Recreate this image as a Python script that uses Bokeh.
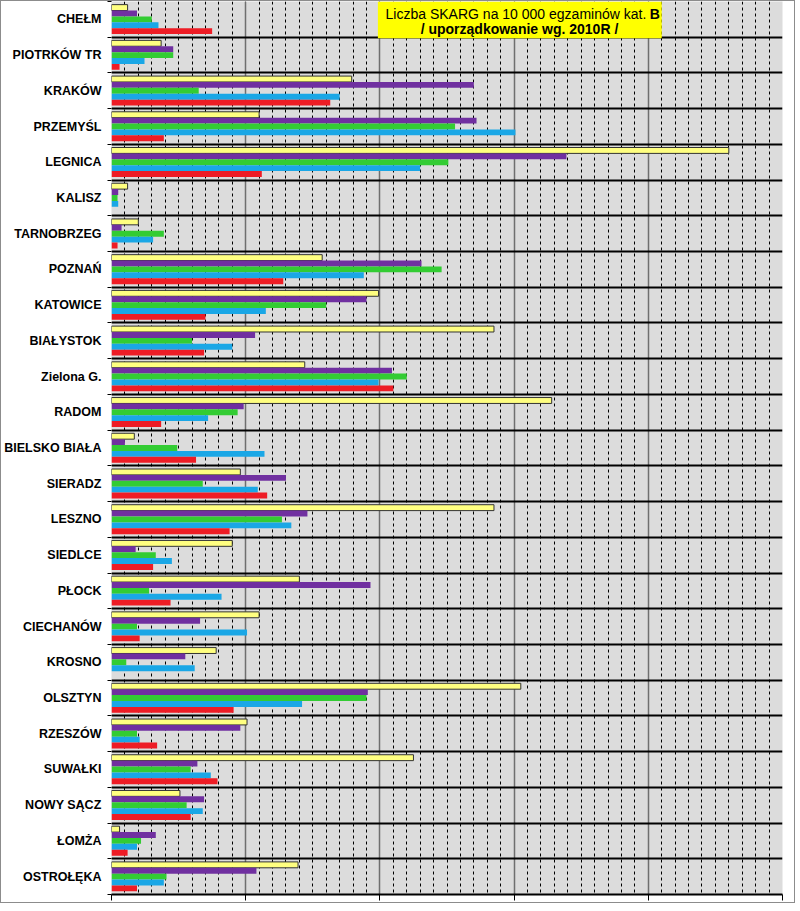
from bokeh.plotting import figure
from bokeh.models import (Range1d, FixedTicker, SingleIntervalTicker, BoxAnnotation,
                          Label, ColumnDataSource)
from bokeh.transform import dodge
from bokeh.embed import file_html
from bokeh.resources import INLINE

cities = ["CHEŁM", "PIOTRKÓW TR", "KRAKÓW", "PRZEMYŚL", "LEGNICA", "KALISZ",
          "TARNOBRZEG", "POZNAŃ", "KATOWICE", "BIAŁYSTOK", "Zielona G.", "RADOM",
          "BIELSKO BIAŁA", "SIERADZ", "LESZNO", "SIEDLCE", "PŁOCK", "CIECHANÓW",
          "KROSNO", "OLSZTYN", "RZESZÓW", "SUWAŁKI", "NOWY SĄCZ", "ŁOMŻA", "OSTROŁĘKA"]

s_yellow = [1.2, 3.7, 17.9, 11.0, 46.0, 1.2, 2.0, 15.7, 19.9, 28.5, 14.4, 32.8, 1.7,
            9.6, 28.5, 9.0, 14.0, 11.0, 7.8, 30.5, 10.1, 22.5, 5.1, 0.6, 13.9]
s_purple = [1.9, 4.6, 27.0, 27.2, 33.9, 0.5, 0.75, 23.1, 19.0, 10.7, 20.9, 9.85, 1.0,
            13.0, 14.6, 1.8, 19.3, 6.6, 5.5, 19.1, 9.6, 6.4, 6.9, 3.3, 10.8]
s_green = [3.0, 4.6, 6.5, 25.6, 25.1, 0.45, 3.9, 24.6, 16.0, 6.0, 22.0, 9.4, 4.9,
           6.8, 12.7, 3.3, 2.8, 1.9, 1.1, 19.0, 1.9, 5.9, 5.6, 2.2, 4.1]
s_cyan = [3.5, 2.46, 17.0, 30.1, 23.0, 0.5, 3.1, 18.8, 11.5, 9.0, 19.9, 7.2, 11.4,
          10.9, 13.4, 4.5, 8.2, 10.1, 6.2, 14.2, 2.1, 7.4, 6.8, 1.9, 3.9]
s_red = [7.5, 0.6, 16.3, 3.9, 11.2, 0.0, 0.45, 12.8, 7.0, 6.9, 21.0, 3.7, 6.3,
         11.6, 8.8, 3.1, 4.4, 2.1, 0.0, 9.1, 3.4, 7.9, 5.9, 1.2, 1.9]

pos = [i + 0.5 for i in range(len(cities))]
src = ColumnDataSource(dict(y=pos, yellow=s_yellow, purple=s_purple, green=s_green,
                            cyan=s_cyan, red=s_red))

p = figure(width=787, height=901, frame_width=671, frame_height=893,
           output_backend="svg", toolbar_location=None,
           x_range=Range1d(0, 50), y_range=Range1d(len(cities), 0),
           min_border_left=104, min_border_right=12, min_border_top=0,
           min_border_bottom=8)
p.background_fill_color = "#DCDCDC"
p.border_fill_color = "white"
p.outline_line_color = None
p.styles = {"border": "1px solid #8c8c8c"}

# x grid
xt = SingleIntervalTicker(interval=10, num_minor_ticks=10)
p.xaxis.ticker = xt
p.xgrid.ticker = xt
p.xgrid.grid_line_color = "#6f6f6f"
p.xgrid.grid_line_width = 1.5
p.xgrid.minor_grid_line_color = "black"
p.xgrid.minor_grid_line_dash = "3 3"
p.xgrid.minor_grid_line_width = 1
p.xaxis.major_label_text_font_size = "0px"
p.xaxis.major_label_text_color = None
p.xaxis.axis_line_color = "black"
p.xaxis.axis_line_width = 2
p.xaxis.major_tick_line_color = "black"
p.xaxis.major_tick_out = 6
p.xaxis.major_tick_in = 0
p.xaxis.minor_tick_line_color = None

# y axis / category separators
bounds = list(range(len(cities) + 1))
p.yaxis.ticker = FixedTicker(ticks=pos, minor_ticks=bounds)
p.yaxis.major_label_overrides = {pv: c for pv, c in zip(pos, cities)}
p.yaxis.major_tick_line_color = None
p.yaxis.major_tick_out = 0
p.yaxis.major_tick_in = 0
p.yaxis.minor_tick_line_color = "black"
p.yaxis.minor_tick_out = 4
p.yaxis.minor_tick_in = 0
p.yaxis.axis_line_color = None
p.yaxis.major_label_standoff = 6
p.yaxis.major_label_text_font = "Liberation Sans"
p.yaxis.major_label_text_font_style = "bold"
p.yaxis.major_label_text_font_size = "12.5px"
p.yaxis.major_label_text_color = "black"
p.ygrid.ticker = FixedTicker(ticks=bounds[1:-1])
p.ygrid.grid_line_color = "black"
p.ygrid.grid_line_width = 2

h = 0.165
p.hbar(y=dodge("y", -0.33, range=p.y_range), left=0, right="yellow", height=h,
       source=src, fill_color="#FFFF80", line_color="#333333", line_width=1)
p.hbar(y=dodge("y", -0.165, range=p.y_range), left=0, right="purple", height=h,
       source=src, fill_color="#7030A0", line_color=None)
p.hbar(y=dodge("y", 0.0, range=p.y_range), left=0, right="green", height=h,
       source=src, fill_color="#33CC33", line_color=None)
p.hbar(y=dodge("y", 0.165, range=p.y_range), left=0, right="cyan", height=h,
       source=src, fill_color="#1AA7E6", line_color=None)
p.hbar(y=dodge("y", 0.33, range=p.y_range), left=0, right="red", height=h,
       source=src, fill_color="#EE1C25", line_color=None)

# title box
p.add_layout(BoxAnnotation(left=19.85, right=41.0, top=0, bottom=1.03,
                           fill_color="#FFFF00", fill_alpha=1, line_color=None))
p.add_layout(Label(x=39.85, y=0.34, text="Liczba SKARG na 10 000 egzaminów kat.",
                   text_align="right", text_baseline="middle",
                   text_font="Liberation Sans", text_font_size="14px",
                   text_color="black"))
p.add_layout(Label(x=40.1, y=0.34, text="B", text_align="left", text_baseline="middle",
                   text_font="Liberation Sans", text_font_size="14px",
                   text_font_style="bold", text_color="black"))
p.add_layout(Label(x=30.4, y=0.77, text="/ uporządkowanie wg. 2010R /",
                   text_align="center", text_baseline="middle",
                   text_font="Liberation Sans", text_font_size="14px",
                   text_font_style="bold", text_color="black"))

open("out.html", "w").write(file_html(p, INLINE))
